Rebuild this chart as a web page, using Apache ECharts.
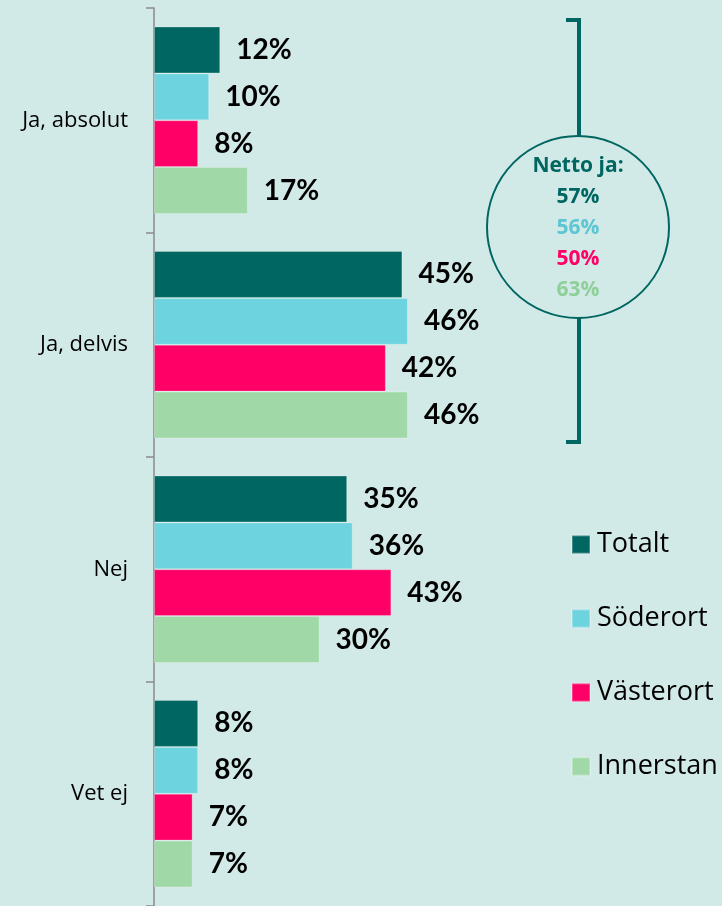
<!DOCTYPE html>
<html>
<head>
<meta charset="utf-8">
<script src="https://cdn.jsdelivr.net/npm/echarts@6/dist/echarts.min.js"></script>
<style>
  html, body { margin: 0; padding: 0; background: #d2eae7; }
  #chart { width: 722px; height: 906px; }
</style>
</head>
<body>
<div id="chart"></div>
<script>
var categories = ['Ja, absolut', 'Ja, delvis', 'Nej', 'Vet ej'];
var totalt = [12, 45, 35, 8];
var soderort = [10, 46, 36, 8];
var vasterort = [8, 42, 43, 7];
var innerstan = [17, 46, 30, 7];
var seriesNames = ['Totalt', 'Söderort', 'Västerort', 'Innerstan'];
var colors = ['#006661', '#6dd3de', '#ff0066', '#a0d8a8'];
var nettoTitle = 'Netto ja:';
var netto = ['57%', '56%', '50%', '63%'];
var nettoColors = ['#006661', '#5cc6d2', '#ff0066', '#8fcf9a'];

var font = 'Lato, "Open Sans", sans-serif';
var font2 = '"Open Sans", sans-serif';

function makeSeries(name, data, i) {
  return {
    type: 'bar',
    name: name,
    data: data,
    barGap: '0%',
    barCategoryGap: '16.5%',
    itemStyle: { color: colors[i], borderColor: 'rgba(255,255,255,0.25)', borderWidth: 1 },
    label: {
      show: true,
      position: 'right',
      distance: 16,
      formatter: '{c}%',
      color: '#000',
      fontWeight: 'bold',
      fontSize: 28,
      fontFamily: font
    }
  };
}

var allData = [totalt, soderort, vasterort, innerstan];
var series = seriesNames.map(function (n, i) { return makeSeries(n, allData[i], i); });

// netto-klammer och cirkel
var nettoGraphics = [
  { type: 'polyline', shape: { points: [[566, 20], [579, 20], [579, 442], [566, 442]] },
    style: { stroke: '#006661', lineWidth: 4, fill: null } },
  { type: 'circle', shape: { cx: 578, cy: 227, r: 91 },
    style: { fill: '#d2eae7', stroke: '#006661', lineWidth: 2 } },
  { type: 'text', x: 578, y: 166,
    style: { text: nettoTitle, fill: '#006661', font: 'bold 21px ' + font2, align: 'center', verticalAlign: 'middle' } }
];
netto.forEach(function (t, i) {
  nettoGraphics.push({
    type: 'text', x: 578, y: 197 + i * 31,
    style: { text: t, fill: nettoColors[i], font: 'bold 21px ' + font2, align: 'center', verticalAlign: 'middle' }
  });
});

var option = {
  backgroundColor: '#d2eae7',
  animation: false,
  grid: { left: 154, top: 8, width: 552, height: 900 },
  legend: {
    orient: 'vertical',
    left: 571,
    top: 531,
    padding: 0,
    itemWidth: 18,
    itemHeight: 18,
    itemGap: 47,
    icon: 'rect',
    textStyle: { fontSize: 27, color: '#000', fontFamily: font2, padding: [0, 0, 0, 2] },
    data: seriesNames
  },
  xAxis: { type: 'value', min: 0, max: 100, show: false },
  yAxis: {
    type: 'category',
    inverse: true,
    data: categories,
    axisLine: { lineStyle: { color: '#8a8a8a', width: 1.5 } },
    axisTick: { show: true, length: 8, lineStyle: { color: '#8a8a8a', width: 1.5 } },
    axisLabel: { fontSize: 22, color: '#000', margin: 26, fontFamily: font2 }
  },
  graphic: nettoGraphics,
  series: series
};

var myChart = echarts.init(document.getElementById('chart'));
myChart.setOption(option);
</script>
</body>
</html>
